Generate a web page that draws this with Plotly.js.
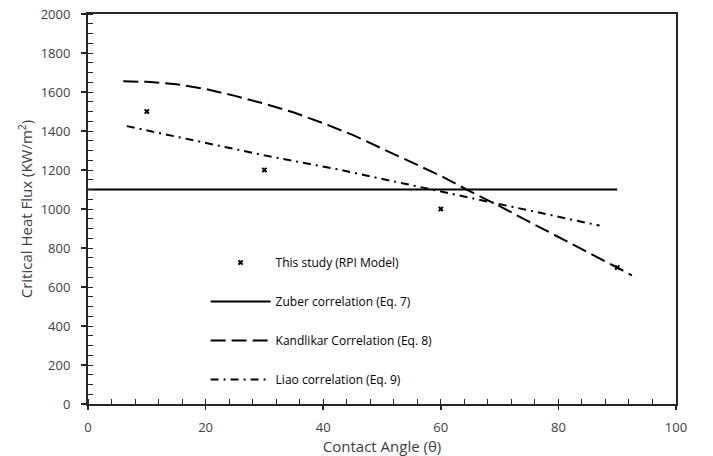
<!DOCTYPE html>
<html><head><meta charset="utf-8">
<script src="https://cdn.plot.ly/plotly-3.0.1.min.js"></script>
<style>body{margin:0;padding:0;background:#fff}#c{width:713px;height:456px}</style>
</head><body><div id="c"></div>
<script>
var studyX = [10, 30, 60, 90];
var studyY = [1500, 1200, 1000, 700];
var zuberX = [0, 90];
var zuberY = [1100, 1100];
var kandX = [6, 10, 15, 20, 25, 30, 35, 40, 45, 50, 55, 60, 65, 70, 75, 80, 85, 90, 92.5];
var kandY = [1655, 1652, 1640, 1615, 1580, 1540, 1495, 1440, 1380, 1310, 1240, 1170, 1090, 1015, 935, 855, 778, 700, 660];
var liaoX = [6.6, 20, 30, 43, 56, 68, 76, 87];
var liaoY = [1425, 1340, 1275, 1200, 1115, 1040, 985, 915];

var fnt = "Open Sans, Noto Sans, sans-serif";
var txt = "#404040";
var traces = [
  {x: studyX, y: studyY, mode: 'markers', name: 'This study (RPI Model)', legendgroup: 'a',
   marker: {symbol: 'x', size: 5, color: '#000'}},
  {x: zuberX, y: zuberY, mode: 'lines', name: 'Zuber correlation (Eq. 7)', legendgroup: 'b',
   line: {color: '#000', width: 2}},
  {x: kandX, y: kandY, mode: 'lines', name: 'Kandlikar Correlation (Eq. 8)', legendgroup: 'c',
   line: {color: '#000', width: 2, dash: '15px,6px'}},
  {x: liaoX, y: liaoY, mode: 'lines', name: 'Liao correlation (Eq. 9)', legendgroup: 'd',
   line: {color: '#000', width: 2, dash: '8px,5px,2px,5px'}}
];
var layout = {
  width: 713, height: 456,
  margin: {l: 88, r: 37, t: 14, b: 52},
  paper_bgcolor: '#fff', plot_bgcolor: '#fff',
  font: {family: fnt, color: txt, size: 13},
  showlegend: true,
  legend: {x: 0.2, y: 0.40, xanchor: 'left', yanchor: 'top', bgcolor: 'rgba(0,0,0,0)',
    font: {size: 12, color: '#000', family: fnt}, itemwidth: 60, tracegroupgap: 20, traceorder: 'grouped'},
  xaxis: {range: [0, 100], tick0: 0, dtick: 20, showgrid: false, zeroline: false,
    showline: true, linecolor: '#262626', linewidth: 2, mirror: true,
    ticks: 'outside', ticklen: 4, tickwidth: 1.5, tickcolor: '#262626',
    minor: {dtick: 4, ticks: 'inside', ticklen: 5, tickwidth: 1, tickcolor: '#262626', showgrid: false},
    ticklabelstandoff: 6,
    tickfont: {size: 13, color: txt},
    title: {text: 'Contact Angle (θ)', font: {size: 15, color: txt}, standoff: 8}},
  yaxis: {range: [0, 2000], tick0: 0, dtick: 200, showgrid: false, zeroline: false,
    showline: true, linecolor: '#262626', linewidth: 2, mirror: true,
    ticks: 'outside', ticklen: 5, tickwidth: 1.5, tickcolor: '#262626',
    minor: {dtick: 50, ticks: 'inside', ticklen: 5, tickwidth: 1, tickcolor: '#262626', showgrid: false},
    ticklabelstandoff: 8,
    tickfont: {size: 13, color: txt},
    title: {text: 'Critical Heat Flux (KW/m<sup>2</sup>)', font: {size: 15, color: txt}, standoff: 4}}
};
Plotly.newPlot('c', traces, layout, {displayModeBar: false, staticPlot: true});
</script></body></html>
